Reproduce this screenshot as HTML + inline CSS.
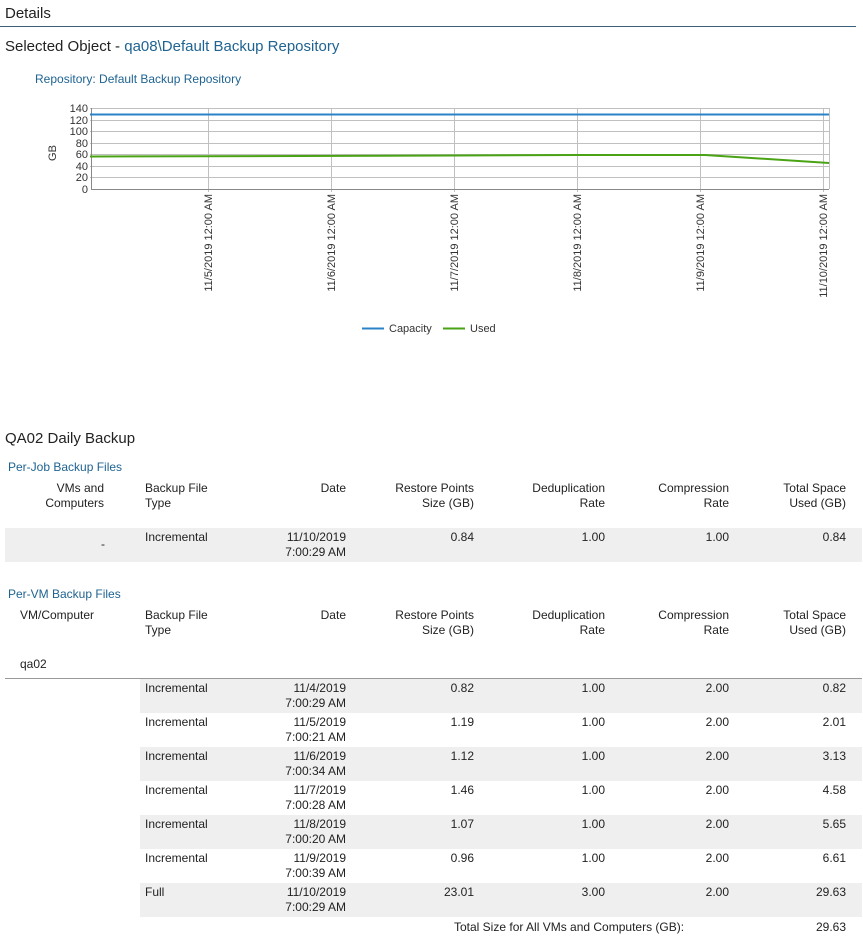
<!DOCTYPE html>
<html><head><meta charset="utf-8"><style>
body{margin:0;width:863px;height:939px;background:#fff;font-family:"Liberation Sans",sans-serif;position:relative;overflow:hidden;color:#222}
.a{position:absolute;font-size:12px;line-height:15px;white-space:nowrap}
.r{text-align:right}
.bl{color:#1f6391}
.g{position:absolute;background:#efefef;height:34px}
</style></head><body>
<div class="a" style="left:5px;top:5px;font-size:15px;line-height:18px">Details</div>
<div style="position:absolute;left:0;top:26px;width:856px;height:1px;background:#3b5f7a"></div>
<div class="a" style="left:5px;top:37px;font-size:15px;line-height:19px">Selected Object - <span class="bl">qa08\Default Backup Repository</span></div>
<div class="a bl" style="left:35px;top:72px">Repository: Default Backup Repository</div>

<svg style="position:absolute;left:0;top:0" width="863" height="340">
<g stroke="#c0c0c0" stroke-width="1">
<line x1="90" y1="108.5" x2="829" y2="108.5"/><line x1="90" y1="120.5" x2="829" y2="120.5"/><line x1="90" y1="131.5" x2="829" y2="131.5"/><line x1="90" y1="143.5" x2="829" y2="143.5"/><line x1="90" y1="154.5" x2="829" y2="154.5"/><line x1="90" y1="166.5" x2="829" y2="166.5"/><line x1="90" y1="177.5" x2="829" y2="177.5"/>
<line x1="208.5" y1="108" x2="208.5" y2="192"/><line x1="331.5" y1="108" x2="331.5" y2="192"/><line x1="454.5" y1="108" x2="454.5" y2="192"/><line x1="577.5" y1="108" x2="577.5" y2="192"/><line x1="700.5" y1="108" x2="700.5" y2="192"/><line x1="823.5" y1="108" x2="823.5" y2="192"/><line x1="829.5" y1="108" x2="829.5" y2="189"/>
</g>
<line x1="91.5" y1="108" x2="91.5" y2="189" stroke="#888"/>
<line x1="91" y1="189.5" x2="829" y2="189.5" stroke="#888"/>
<line x1="90" y1="114.5" x2="829" y2="114.5" stroke="#2a83c8" stroke-width="2"/>
<polyline points="90,156.5 300,156 454,155.5 577,155 705,155 829,163" fill="none" stroke="#4aa315" stroke-width="2"/>
<g font-family="Liberation Sans" font-size="11" fill="#333" text-anchor="end">
<text x="88" y="112">140</text><text x="88" y="124">120</text><text x="88" y="135">100</text><text x="88" y="147">80</text><text x="88" y="158">60</text><text x="88" y="170">40</text><text x="88" y="181">20</text><text x="88" y="193">0</text>
<text transform="translate(56,153) rotate(-90)" text-anchor="middle">GB</text>
<text transform="translate(212,194) rotate(-90)">11/5/2019 12:00 AM</text>
<text transform="translate(335,194) rotate(-90)">11/6/2019 12:00 AM</text>
<text transform="translate(458,194) rotate(-90)">11/7/2019 12:00 AM</text>
<text transform="translate(581,194) rotate(-90)">11/8/2019 12:00 AM</text>
<text transform="translate(704,194) rotate(-90)">11/9/2019 12:00 AM</text>
<text transform="translate(827,194) rotate(-90)">11/10/2019 12:00 AM</text>
</g>
<line x1="362" y1="328.5" x2="384" y2="328.5" stroke="#2a83c8" stroke-width="2"/>
<line x1="443" y1="328.5" x2="465" y2="328.5" stroke="#4aa315" stroke-width="2"/>
<g font-family="Liberation Sans" font-size="11" fill="#333"><text x="389" y="332">Capacity</text><text x="470" y="332">Used</text></g>
</svg>

<div class="a" style="left:5px;top:430px;font-size:15px;line-height:18px">QA02 Daily Backup</div>
<div class="a bl" style="left:8px;top:460px">Per-Job Backup Files</div>
<div class="a r" style="right:759px;top:481px">VMs and<br>Computers</div>
<div class="a" style="left:145px;top:481px">Backup File<br>Type</div>
<div class="a r" style="right:517px;top:481px">Date</div>
<div class="a r" style="right:389px;top:481px">Restore Points<br>Size (GB)</div>
<div class="a r" style="right:258px;top:481px">Deduplication<br>Rate</div>
<div class="a r" style="right:134px;top:481px">Compression<br>Rate</div>
<div class="a r" style="right:17px;top:481px">Total Space<br>Used (GB)</div>
<div class="g" style="left:5px;top:528px;width:857px"></div>
<div class="a" style="left:101px;top:537px">-</div>
<div class="a" style="left:145px;top:530px">Incremental</div>
<div class="a r" style="right:517px;top:530px">11/10/2019<br>7:00:29 AM</div>
<div class="a r" style="right:389px;top:530px">0.84</div>
<div class="a r" style="right:258px;top:530px">1.00</div>
<div class="a r" style="right:134px;top:530px">1.00</div>
<div class="a r" style="right:17px;top:530px">0.84</div>

<div class="a bl" style="left:8px;top:587px">Per-VM Backup Files</div>
<div class="a" style="left:20px;top:608px">VM/Computer</div>
<div class="a" style="left:145px;top:608px">Backup File<br>Type</div>
<div class="a r" style="right:517px;top:608px">Date</div>
<div class="a r" style="right:389px;top:608px">Restore Points<br>Size (GB)</div>
<div class="a r" style="right:258px;top:608px">Deduplication<br>Rate</div>
<div class="a r" style="right:134px;top:608px">Compression<br>Rate</div>
<div class="a r" style="right:17px;top:608px">Total Space<br>Used (GB)</div>
<div class="a" style="left:20px;top:657px">qa02</div>
<div style="position:absolute;left:5px;top:678px;width:857px;height:1px;background:#999"></div>

<div class="g" style="left:140px;top:679px;width:722px"></div>
<div class="g" style="left:140px;top:747px;width:722px"></div>
<div class="g" style="left:140px;top:815px;width:722px"></div>
<div class="g" style="left:140px;top:883px;width:722px"></div>

<div class="a" style="left:145px;top:681px">Incremental</div><div class="a r" style="right:517px;top:681px">11/4/2019<br>7:00:29 AM</div><div class="a r" style="right:389px;top:681px">0.82</div><div class="a r" style="right:258px;top:681px">1.00</div><div class="a r" style="right:134px;top:681px">2.00</div><div class="a r" style="right:17px;top:681px">0.82</div>
<div class="a" style="left:145px;top:715px">Incremental</div><div class="a r" style="right:517px;top:715px">11/5/2019<br>7:00:21 AM</div><div class="a r" style="right:389px;top:715px">1.19</div><div class="a r" style="right:258px;top:715px">1.00</div><div class="a r" style="right:134px;top:715px">2.00</div><div class="a r" style="right:17px;top:715px">2.01</div>
<div class="a" style="left:145px;top:749px">Incremental</div><div class="a r" style="right:517px;top:749px">11/6/2019<br>7:00:34 AM</div><div class="a r" style="right:389px;top:749px">1.12</div><div class="a r" style="right:258px;top:749px">1.00</div><div class="a r" style="right:134px;top:749px">2.00</div><div class="a r" style="right:17px;top:749px">3.13</div>
<div class="a" style="left:145px;top:783px">Incremental</div><div class="a r" style="right:517px;top:783px">11/7/2019<br>7:00:28 AM</div><div class="a r" style="right:389px;top:783px">1.46</div><div class="a r" style="right:258px;top:783px">1.00</div><div class="a r" style="right:134px;top:783px">2.00</div><div class="a r" style="right:17px;top:783px">4.58</div>
<div class="a" style="left:145px;top:817px">Incremental</div><div class="a r" style="right:517px;top:817px">11/8/2019<br>7:00:20 AM</div><div class="a r" style="right:389px;top:817px">1.07</div><div class="a r" style="right:258px;top:817px">1.00</div><div class="a r" style="right:134px;top:817px">2.00</div><div class="a r" style="right:17px;top:817px">5.65</div>
<div class="a" style="left:145px;top:851px">Incremental</div><div class="a r" style="right:517px;top:851px">11/9/2019<br>7:00:39 AM</div><div class="a r" style="right:389px;top:851px">0.96</div><div class="a r" style="right:258px;top:851px">1.00</div><div class="a r" style="right:134px;top:851px">2.00</div><div class="a r" style="right:17px;top:851px">6.61</div>
<div class="a" style="left:145px;top:885px">Full</div><div class="a r" style="right:517px;top:885px">11/10/2019<br>7:00:29 AM</div><div class="a r" style="right:389px;top:885px">23.01</div><div class="a r" style="right:258px;top:885px">3.00</div><div class="a r" style="right:134px;top:885px">2.00</div><div class="a r" style="right:17px;top:885px">29.63</div>
<div class="a" style="left:454px;top:920px">Total Size for All VMs and Computers (GB):</div>
<div class="a r" style="right:17px;top:920px">29.63</div>
</body></html>
